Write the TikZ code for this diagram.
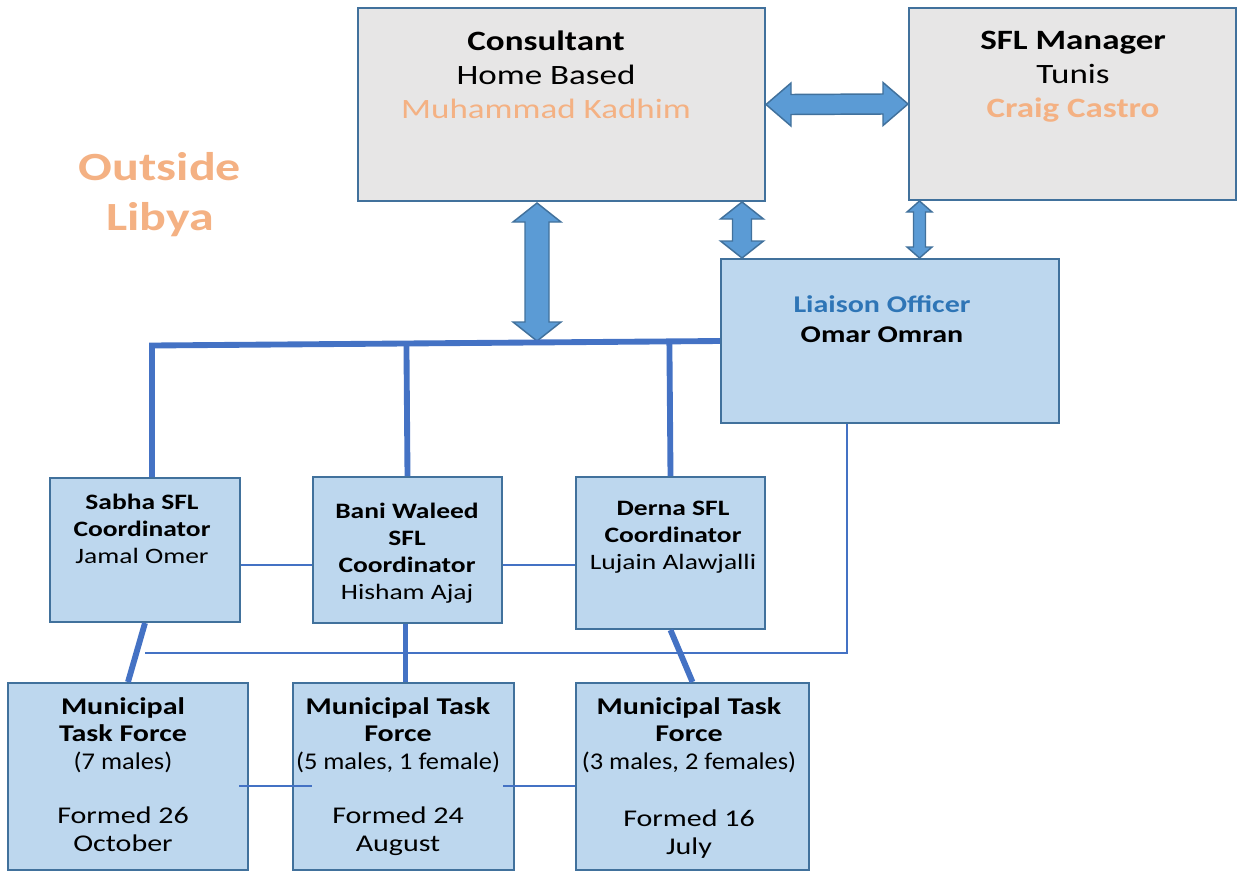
\documentclass[tikz,border=0pt]{standalone}
\usepackage{fontspec}
\setmainfont{Carlito}[FakeStretch=1.25]
\usetikzlibrary{calc,fit}
\definecolor{LineBlue}{HTML}{4472C4}
\definecolor{EdgeBlue}{HTML}{41719C}
\definecolor{ArrowBlue}{HTML}{5B9BD5}
\definecolor{PaleBlue}{HTML}{BDD7EE}
\definecolor{PaleGray}{HTML}{E7E6E6}
\definecolor{Peach}{HTML}{F4B183}
\definecolor{TitleBlue}{HTML}{2E75B6}
\tikzset{
  graybox/.style={draw=EdgeBlue,fill=PaleGray,line width=1.5pt,inner sep=0pt},
  bluebox/.style={draw=EdgeBlue,fill=PaleBlue,line width=1.5pt,inner sep=0pt},
  txt/.style={anchor=north,align=center,inner sep=0pt},
  toptxt/.style={txt,font=\fontsize{21}{25.5}\selectfont},
  midtxt/.style={txt,font=\fontsize{18}{22.5}\selectfont},
  coordtxt/.style={txt,font=\fontsize{16.5}{20.25}\selectfont},
  mtftxt/.style={txt,font=\fontsize{18}{20.6}\selectfont},
  outtxt/.style={txt,text=Peach,font=\fontsize{30}{37.5}\selectfont\bfseries},
  thickln/.style={draw=LineBlue,line width=4.4pt},
  thinln/.style={draw=LineBlue,line width=1.1pt},
  blk/.style={draw=EdgeBlue,fill=ArrowBlue,line width=1.1pt,line join=miter},
}
\newcommand{\narrow}[1]{\scalebox{0.88}[1]{#1}}
% block arrows: from, to, shaft half, head half, head length
\newcommand{\hblk}[5]{%
  \filldraw[blk] (#1) -- ($(#1)+(#5,-#4)$) -- ($(#1)+(#5,-#3)$) -- ($(#2)+(-#5,-#3)$)
    -- ($(#2)+(-#5,-#4)$) -- (#2) -- ($(#2)+(-#5,#4)$) -- ($(#2)+(-#5,#3)$)
    -- ($(#1)+(#5,#3)$) -- ($(#1)+(#5,#4)$) -- cycle;}
\newcommand{\vblk}[5]{%
  \filldraw[blk] (#1) -- ($(#1)+(#4,#5)$) -- ($(#1)+(#3,#5)$) -- ($(#2)+(#3,-#5)$)
    -- ($(#2)+(#4,-#5)$) -- (#2) -- ($(#2)+(-#4,-#5)$) -- ($(#2)+(-#3,-#5)$)
    -- ($(#1)+(-#3,#5)$) -- ($(#1)+(-#4,#5)$) -- cycle;}

\begin{document}
\begin{tikzpicture}[x=0.75pt,y=-0.75pt]
  \useasboundingbox (0,0) rectangle (1237,871);

  % boxes
  \node[graybox, fit={(358,8) (765,201)}] (cons) {};
  \node[graybox, fit={(909,8) (1236,200)}] (mgr) {};
  \node[bluebox, fit={(721,259) (1059,423)}] (liaison) {};
  \node[bluebox, fit={(50,478) (240,622)}] (sabha) {};
  \node[bluebox, fit={(313,477) (502,623)}] (bani) {};
  \node[bluebox, fit={(576,477) (765,629)}] (derna) {};
  \node[bluebox, fit={(8,683) (248,870)}] (mtf1) {};
  \node[bluebox, fit={(293,683) (514,870)}] (mtf2) {};
  \node[bluebox, fit={(576,683) (809,870)}] (mtf3) {};

  % block arrows
  \coordinate (a1t) at (537,203);
  \coordinate (a1b) at (537,341);
  \coordinate (a2) at (742,0);
  \coordinate (a3) at (919.5,0);
  \hblk{cons.east}{mgr.west}{10}{21.5}{25}
  \vblk{a1t}{a1b}{12}{24}{19}
  \vblk{a2 |- cons.south}{a2 |- liaison.north}{9.5}{21.5}{17}
  \vblk{a3 |- mgr.south}{a3 |- liaison.north}{6}{12.5}{11}

  % thick links
  \coordinate (barL) at (152,345.5);
  \draw[thickln] (barL |- sabha.north) -- (barL) -- (liaison.west);
  \draw[thickln] (bani.north) -- ($(barL)!(bani.north)!(liaison.west)$);
  \draw[thickln] (derna.north) -- ($(barL)!(derna.north)!(liaison.west)$);
  \draw[thickln] (sabha.south) -- (mtf1.north);
  \draw[thickln] ($(bani.south)+(-2,0)$) -- ($(bani.south |- mtf2.north)+(-2,0)$);
  \draw[thickln] (derna.south) -- (mtf3.north);

  % thin links
  \coordinate (crow) at (0,565);
  \coordinate (mrow) at (0,786);
  \coordinate (lk) at (847,653);
  \draw[thinln] (sabha.east |- crow) -- (bani.west |- crow);
  \draw[thinln] (bani.east |- crow) -- (derna.west |- crow);
  \draw[thinln] ($(mtf1.east |- mrow)+(-10,0)$) -- ($(mtf2.west |- mrow)+(20,0)$);
  \draw[thinln] ($(mtf2.east |- mrow)+(-12,0)$) -- (mtf3.west |- mrow);
  \draw[thinln] (liaison.south -| lk) -- (lk) -- (lk -| sabha.south);

  % texts
  \node[outtxt] (outside) at (160,152) {Outside\\Libya};
  \node[toptxt] (cons-t) at (546,31) {\textbf{Consultant}\\Home Based\\\textcolor{Peach}{Muhammad Kadhim}};
  \node[toptxt] (mgr-t) at (1073,31) {\textbf{SFL Manager}\\Tunis\\\textcolor{Peach}{\textbf{Craig Castro}}};
  \node[midtxt] (liaison-t) at (882,295) {\textcolor{TitleBlue}{\textbf{Liaison Officer}}\\\textbf{Omar Omran}};
  \node[coordtxt] (sabha-t) at (142,494) {\textbf{Sabha SFL}\\\textbf{Coordinator}\\Jamal Omer};
  \node[coordtxt] (bani-t) at (407,503) {\textbf{Bani Waleed}\\\textbf{SFL}\\\textbf{Coordinator}\\Hisham Ajaj};
  \node[coordtxt] (derna-t) at (673,501) {\textbf{Derna SFL}\\\textbf{Coordinator}\\Lujain Alawjalli};
  \node[mtftxt] (mtf1-t) at (123,697) {\textbf{Municipal}\\\textbf{Task Force}\\\narrow{(7 males)}\\[20.6pt]Formed 26\\October};
  \node[mtftxt] (mtf2-t) at (398,697) {\textbf{Municipal Task}\\\textbf{Force}\\\narrow{(5 males, 1 female)}\\[20.6pt]Formed 24\\August};
  \node[mtftxt] (mtf3-t) at (689,697) {\textbf{Municipal Task}\\\textbf{Force}\\\narrow{(3 males, 2 females)}\\[22.6pt]Formed 16\\July};
\end{tikzpicture}
\end{document}
